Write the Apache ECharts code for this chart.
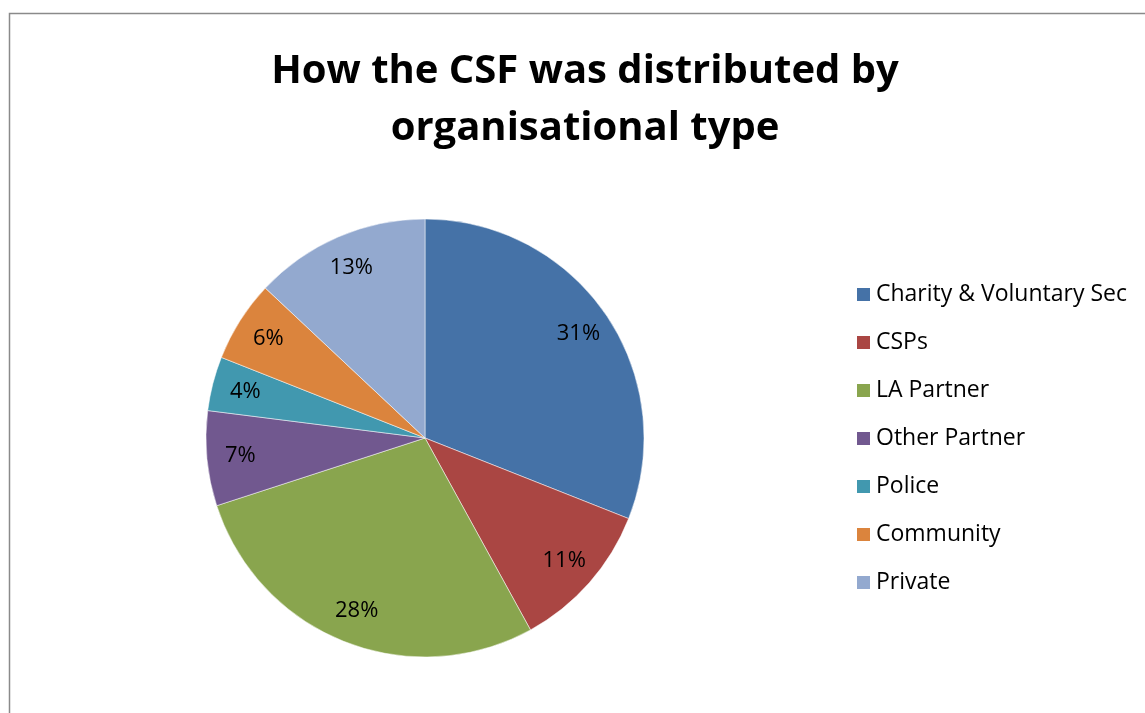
<!DOCTYPE html>
<html>
<head>
<meta charset="utf-8">
<script src="https://cdn.jsdelivr.net/npm/echarts@6/dist/echarts.min.js"></script>
<style>
  html, body { margin: 0; padding: 0; background: #fff; }
  #chart { width: 1145px; height: 713px; }
</style>
</head>
<body>
<div id="chart"></div>
<script>
// categories and shares (%)
const categories = ['Charity & Voluntary Sec', 'CSPs', 'LA Partner', 'Other Partner', 'Police', 'Community', 'Private'];
const shares = [31, 11, 28, 7, 4, 6, 13];
const colors = ['#4572A7', '#AA4643', '#89A54E', '#71588F', '#4198AF', '#DB843D', '#93A9CF'];

const pieData = categories.map((name, i) => ({ name: name, value: shares[i] }));

const chart = echarts.init(document.getElementById('chart'));
const center = [425, 438];
const radius = 219;

chart.setOption({
  animation: false,
  color: colors,
  title: {
    text: 'How the CSF was distributed by\norganisational type',
    left: 580,
    top: 38,
    textAlign: 'center',
    textStyle: {
      fontFamily: 'Open Sans',
      fontWeight: 'bold',
      fontSize: 40,
      lineHeight: 57,
      color: '#000'
    }
  },
  legend: {
    orient: 'vertical',
    left: 855,
    top: 283,
    padding: 0,
    icon: 'rect',
    itemWidth: 15,
    itemHeight: 15,
    itemGap: 25,
    data: categories,
    textStyle: { fontFamily: 'Open Sans', fontSize: 23, lineHeight: 23, color: '#000' }
  },
  graphic: [{
    type: 'rect',
    shape: { x: 9.5, y: 13.5, width: 1300, height: 900 },
    style: { fill: 'none', stroke: '#8a8a8a', lineWidth: 1.5 },
    silent: true
  }],
  series: [{
    type: 'pie',
    center: center,
    radius: radius,
    startAngle: 90,
    clockwise: true,
    label: { show: false },
    labelLine: { show: false },
    itemStyle: { borderColor: '#fff', borderWidth: 0.5 },
    emphasis: { disabled: true },
    data: pieData
  }, {
    // invisible ring used only to place the percent labels near the rim
    type: 'pie',
    center: center,
    radius: [146, radius],
    startAngle: 90,
    clockwise: true,
    silent: true,
    itemStyle: { color: 'rgba(0,0,0,0)' },
    label: {
      show: true,
      position: 'inside',
      formatter: '{c}%',
      fontFamily: 'Open Sans',
      fontSize: 22,
      color: '#000'
    },
    labelLine: { show: false },
    emphasis: { disabled: true },
    data: pieData
  }]
});
</script>
</body>
</html>
